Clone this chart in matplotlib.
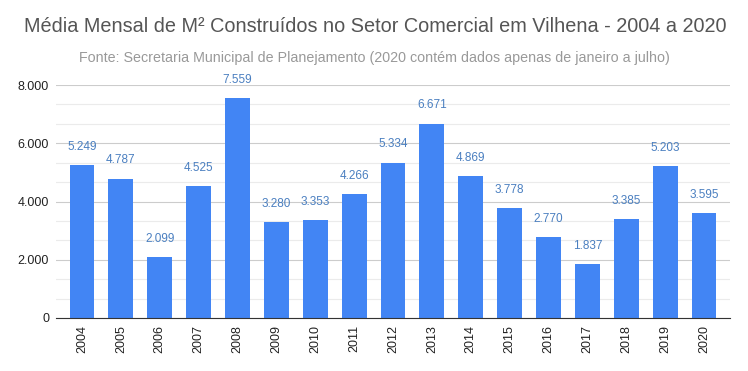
import matplotlib
matplotlib.use("Agg")
import matplotlib.pyplot as plt
from matplotlib.ticker import MultipleLocator, FuncFormatter

years = ["2004", "2005", "2006", "2007", "2008", "2009", "2010", "2011", "2012",
         "2013", "2014", "2015", "2016", "2017", "2018", "2019", "2020"]
values = [5249, 4787, 2099, 4525, 7559, 3280, 3353, 4266, 5334,
          6671, 4869, 3778, 2770, 1837, 3385, 5203, 3595]
title = "Média Mensal de M² Construídos no Setor Comercial em Vilhena - 2004 a 2020"
subtitle = "Fonte: Secretaria Municipal de Planejamento (2020 contém dados apenas de janeiro a julho)"

plt.rcParams['font.family'] = ['Liberation Sans', 'DejaVu Sans']

def fmt(v):
    return f"{int(v):,}".replace(",", ".")

fig = plt.figure(figsize=(7.48, 3.71), dpi=100)
ax = fig.add_axes([56/748, 1 - 318/371, (730-56)/748, (318-85)/371])

x = list(range(len(years)))
bars = ax.bar(x, values, width=0.64, color="#4285f4", zorder=3)
for xi, v in zip(x, values):
    ax.text(xi, v + 420, fmt(v), ha="center", va="bottom", fontsize=8.5, color="#4a7fc0")

ax.set_ylim(0, 8000)
ax.set_xlim(-0.67, len(years) - 1 + 0.67)
ax.yaxis.set_major_locator(MultipleLocator(2000))
ax.yaxis.set_minor_locator(MultipleLocator(2000/3))
ax.yaxis.set_major_formatter(FuncFormatter(lambda v, p: fmt(v)))
ax.grid(axis="y", which="major", color="#cccccc", linewidth=0.8, zorder=0)
ax.grid(axis="y", which="minor", color="#ebebeb", linewidth=0.8, zorder=0)
ax.set_xticks(x)
ax.set_xticklabels(years, rotation=90, fontsize=9, color="#222222")
ax.tick_params(axis="y", which="both", length=0, labelsize=9, labelcolor="#222222", pad=5)
ax.tick_params(axis="x", length=0, pad=5)
for s in ["top", "right", "left"]:
    ax.spines[s].set_visible(False)
ax.spines["bottom"].set_color("#333333")
ax.spines["bottom"].set_zorder(4)

fig.text(375/748, 1 - 27/371, title, ha="center", va="center", fontsize=14.3, color="#555555")
fig.text(374/748, 1 - 58/371, subtitle, ha="center", va="center", fontsize=10.3, color="#999999")

fig.savefig("out.png", dpi=100, facecolor="white")
